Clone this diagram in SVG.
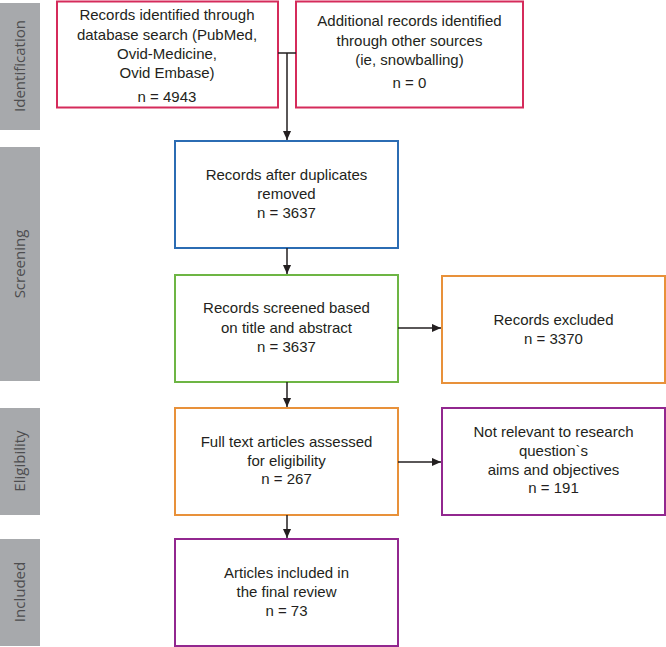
<svg xmlns="http://www.w3.org/2000/svg" width="666" height="647" viewBox="0 0 666 647">
<style>
.bar{fill:#a7a9ac}
.bl{font-family:"Open Sans","Liberation Sans",sans-serif;font-size:15px;fill:#4d4d4f;text-anchor:middle}
.box{fill:#fff;stroke-width:2}
.t{font-family:"Liberation Sans",Arial,sans-serif;font-size:15px;fill:#231f20;text-anchor:middle}
.red{stroke:#d52b5b}.blue{stroke:#2b6cb3}.green{stroke:#6db544}.orange{stroke:#e8913a}.purple{stroke:#92278f}
.c{stroke:#231f20;stroke-width:1.5;fill:none}
</style>
<defs>
<marker id="ah" viewBox="0 0 10 10" refX="10" refY="5" markerWidth="9" markerHeight="9" orient="auto" markerUnits="userSpaceOnUse">
<path d="M0,0.5 L10,5 L0,9.5 z" fill="#231f20"/>
</marker>
</defs>
<g id="stages">
<rect class="bar" x="0" y="3" width="40" height="127"/>
<text class="bl" transform="translate(25,66) rotate(-90)">Identification</text>
<rect class="bar" x="0" y="147" width="40" height="234"/>
<text class="bl" transform="translate(25,264) rotate(-90)">Screening</text>
<rect class="bar" x="0" y="408" width="40" height="107"/>
<text class="bl" transform="translate(25,461) rotate(-90)">Eligibility</text>
<rect class="bar" x="0" y="539" width="40" height="107"/>
<text class="bl" transform="translate(25,592) rotate(-90)">Included</text>
</g>
<g id="n1">
<rect class="box red" x="57" y="1.5" width="221" height="106"/>
<text class="t" x="167" y="20">Records identified through</text>
<text class="t" x="167" y="40">database search (PubMed,</text>
<text class="t" x="167" y="59">Ovid-Medicine,</text>
<text class="t" x="167" y="78">Ovid Embase)</text>
<text class="t" x="167" y="102">n = 4943</text>
</g>
<g id="n2">
<rect class="box red" x="296" y="1.5" width="227" height="106"/>
<text class="t" x="409.5" y="26">Additional records identified</text>
<text class="t" x="409.5" y="46">through other sources</text>
<text class="t" x="409.5" y="65">(ie, snowballing)</text>
<text class="t" x="409.5" y="88">n = 0</text>
</g>
<g id="n3">
<rect class="box blue" x="175" y="141" width="223" height="107"/>
<text class="t" x="286.5" y="180">Records after duplicates</text>
<text class="t" x="286.5" y="199">removed</text>
<text class="t" x="286.5" y="218">n = 3637</text>
</g>
<g id="n4">
<rect class="box green" x="175" y="275" width="223" height="107"/>
<text class="t" x="286.5" y="313">Records screened based</text>
<text class="t" x="286.5" y="333">on title and abstract</text>
<text class="t" x="286.5" y="352">n = 3637</text>
</g>
<g id="n5">
<rect class="box orange" x="442" y="276" width="223" height="107"/>
<text class="t" x="553.5" y="325">Records excluded</text>
<text class="t" x="553.5" y="344">n = 3370</text>
</g>
<g id="n6">
<rect class="box orange" x="175" y="408" width="223" height="107"/>
<text class="t" x="286.5" y="447">Full text articles assessed</text>
<text class="t" x="286.5" y="466">for eligibility</text>
<text class="t" x="286.5" y="484">n = 267</text>
</g>
<g id="n7">
<rect class="box purple" x="442" y="408" width="223" height="107"/>
<text class="t" x="553.5" y="437">Not relevant to research</text>
<text class="t" x="553.5" y="456">question`s</text>
<text class="t" x="553.5" y="475">aims and objectives</text>
<text class="t" x="553.5" y="493">n = 191</text>
</g>
<g id="n8">
<rect class="box purple" x="175" y="539" width="223" height="107"/>
<text class="t" x="286.5" y="578">Articles included in</text>
<text class="t" x="286.5" y="597">the final review</text>
<text class="t" x="286.5" y="616">n = 73</text>
</g>
<g id="connectors">
<path class="c" d="M278,53 H296"/>
<path class="c" d="M287,53 V140" marker-end="url(#ah)"/>
<path class="c" d="M287,248 V274" marker-end="url(#ah)"/>
<path class="c" d="M398,328 H441" marker-end="url(#ah)"/>
<path class="c" d="M287,382 V407" marker-end="url(#ah)"/>
<path class="c" d="M398,462 H441" marker-end="url(#ah)"/>
<path class="c" d="M287,515 V538" marker-end="url(#ah)"/>
</g>
</svg>
